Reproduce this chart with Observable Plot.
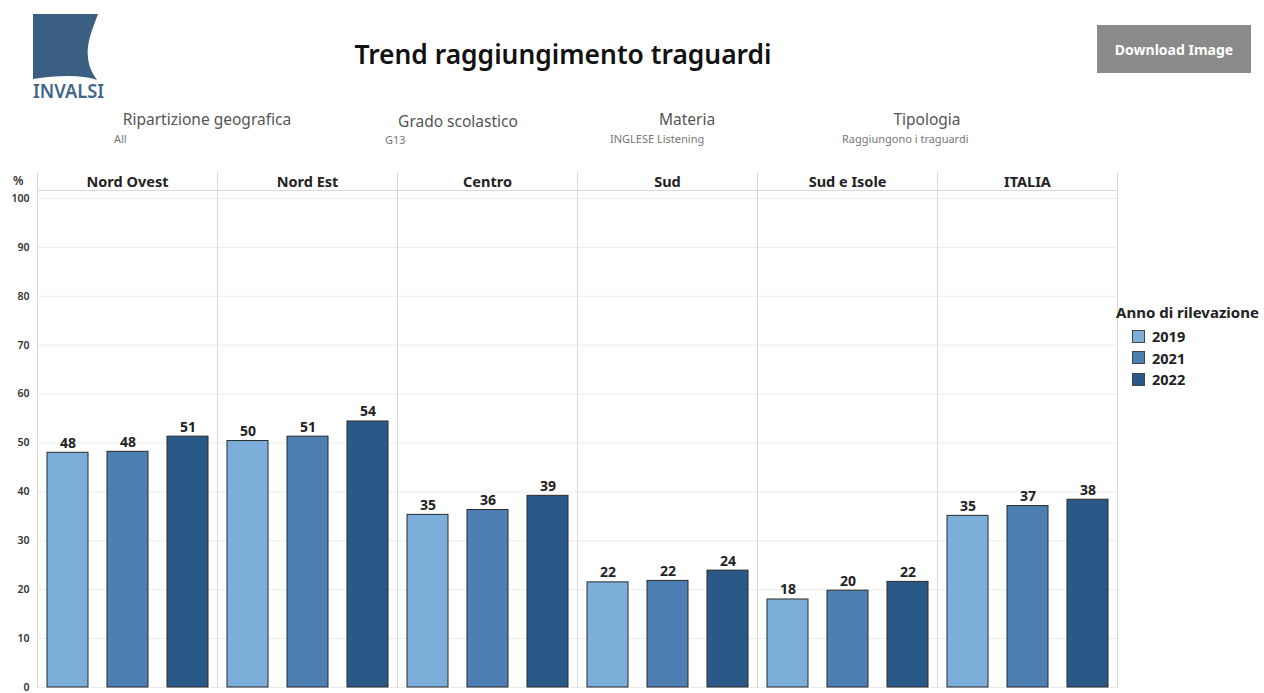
<!DOCTYPE html>
<html>
<head>
<meta charset="utf-8">
<script src="https://cdn.jsdelivr.net/npm/d3@7"></script>
<script src="https://cdn.jsdelivr.net/npm/@observablehq/plot@0.6"></script>
<style>
  html, body { margin: 0; padding: 0; background: #fff; }
  body { width: 1264px; height: 693px; position: relative; overflow: hidden; font-family: "Noto Sans", "Open Sans", sans-serif; }
  .abs { position: absolute; white-space: nowrap; }
  .title { left: 0; width: 1126px; top: 36px; text-align: center; font-size: 26.4px; font-weight: 600; color: #111; }
  .btn { left: 1097px; top: 25px; width: 154px; height: 48px; background: #8a8a8a; color: #fff; font-size: 14px; font-weight: 700; display: flex; align-items: center; justify-content: center; }
  .fh { font-size: 15.5px; color: #555; transform: translateX(-50%); }
  .fv { font-size: 11px; color: #777; }
  .legend-title { left: 1116px; top: 302px; font-size: 15px; font-weight: 700; color: #222; }
  .lg-row { left: 1132px; display: flex; align-items: center; font-size: 14.5px; font-weight: 700; color: #222; }
  .lg-sw { width: 13px; height: 13px; border: 1px solid #444; margin-right: 7px; box-sizing: border-box; }
  .pct { left: 13px; top: 172px; font-size: 12px; font-weight: 600; color: #333; }
  #chart { position: absolute; left: 0; top: 166px; }
</style>
</head>
<body>
<svg class="abs" style="left:0;top:0" width="120" height="110">
  <path d="M33,14 L98,14 C92,30 86,44 88,58 C89,68 93,74 97,80 C80,74 55,76 33,79 Z" fill="#3b5f82"/>
  <text x="33" y="98" font-family="Noto Sans, sans-serif" font-weight="600" font-size="19" fill="#3f668b" textLength="71" lengthAdjust="spacingAndGlyphs">INVALSI</text>
</svg>
<div class="abs title">Trend raggiungimento traguardi</div>
<div class="abs btn">Download Image</div>

<div class="abs fh" style="left:207px;top:108px">Ripartizione geografica</div>
<div class="abs fv" style="left:114px;top:131px">All</div>
<div class="abs fh" style="left:458px;top:110px">Grado scolastico</div>
<div class="abs fv" style="left:385px;top:132px">G13</div>
<div class="abs fh" style="left:687px;top:108px">Materia</div>
<div class="abs fv" style="left:610px;top:131px">INGLESE Listening</div>
<div class="abs fh" style="left:927px;top:108px">Tipologia</div>
<div class="abs fv" style="left:842px;top:131px">Raggiungono i traguardi</div>

<div class="abs pct">%</div>
<div id="chart"></div>
<div class="abs legend-title">Anno di rilevazione</div>
<div id="legend"></div>

<script>
const regions = ["Nord Ovest", "Nord Est", "Centro", "Sud", "Sud e Isole", "ITALIA"];
const years = ["2019", "2021", "2022"];
const values2019 = [48.0, 50.4, 35.3, 21.5, 18.0, 35.1];
const values2021 = [48.2, 51.3, 36.3, 21.8, 19.8, 37.1];
const values2022 = [51.3, 54.4, 39.2, 23.9, 21.6, 38.4];
const yearColors = ["#7bafd9", "#4d7fb3", "#2a5987"];
const yTicks = [0, 10, 20, 30, 40, 50, 60, 70, 80, 90, 100];

const series = [values2019, values2021, values2022];
const data = regions.flatMap((r, i) => years.map((y, j) => ({region: r, year: y, value: series[j][i]})));

const chart = Plot.plot({
  width: 1120,
  height: 527,
  marginLeft: 36,
  marginRight: 2,
  marginTop: 32,
  marginBottom: 6,
  style: {fontFamily: "Noto Sans, sans-serif", background: "transparent"},
  fx: {domain: regions, paddingInner: 0, paddingOuter: 0, axis: null, label: null},
  x: {domain: years, paddingInner: 0.32, paddingOuter: 0.16, axis: null, label: null},
  y: {domain: [0, 100], axis: null, label: null},
  color: {domain: years, range: yearColors},
  marks: [
    Plot.gridY(yTicks, {stroke: "#ececec", strokeOpacity: 1}),
    Plot.axisY(yTicks, {tickSize: 0, tickPadding: 8, fontSize: 10.5, fontWeight: 600, fill: "#333", label: null}),
    Plot.frame({anchor: "left", stroke: "#d9d9d9", strokeOpacity: 1, insetTop: -26}),
    Plot.frame({anchor: "right", stroke: "#d9d9d9", strokeOpacity: 1, insetTop: -26}),
    Plot.frame({anchor: "top", stroke: "#d9d9d9", strokeOpacity: 1, insetTop: -8}),
    Plot.barY(data, {fx: "region", x: "year", y: "value", fill: "year", stroke: "#2a2a2a", strokeWidth: 1}),
    Plot.text(data, {fx: "region", x: "year", y: "value", text: d => Math.round(d.value), lineAnchor: "bottom", dy: -5, fontSize: 14, fontWeight: 700, fill: "#222"}),
    Plot.text(regions, {fx: d => d, text: d => d, frameAnchor: "top", lineAnchor: "middle", dy: -16, fontSize: 14.5, fontWeight: 700, fill: "#222"})
  ]
});
document.getElementById("chart").appendChild(chart);

const legend = d3.select("#legend");
years.forEach((y, i) => {
  const row = legend.append("div").attr("class", "abs lg-row").style("top", (326 + i * 21.5) + "px");
  row.append("div").attr("class", "lg-sw").style("background", yearColors[i]);
  row.append("span").text(y);
});
</script>
</body>
</html>
